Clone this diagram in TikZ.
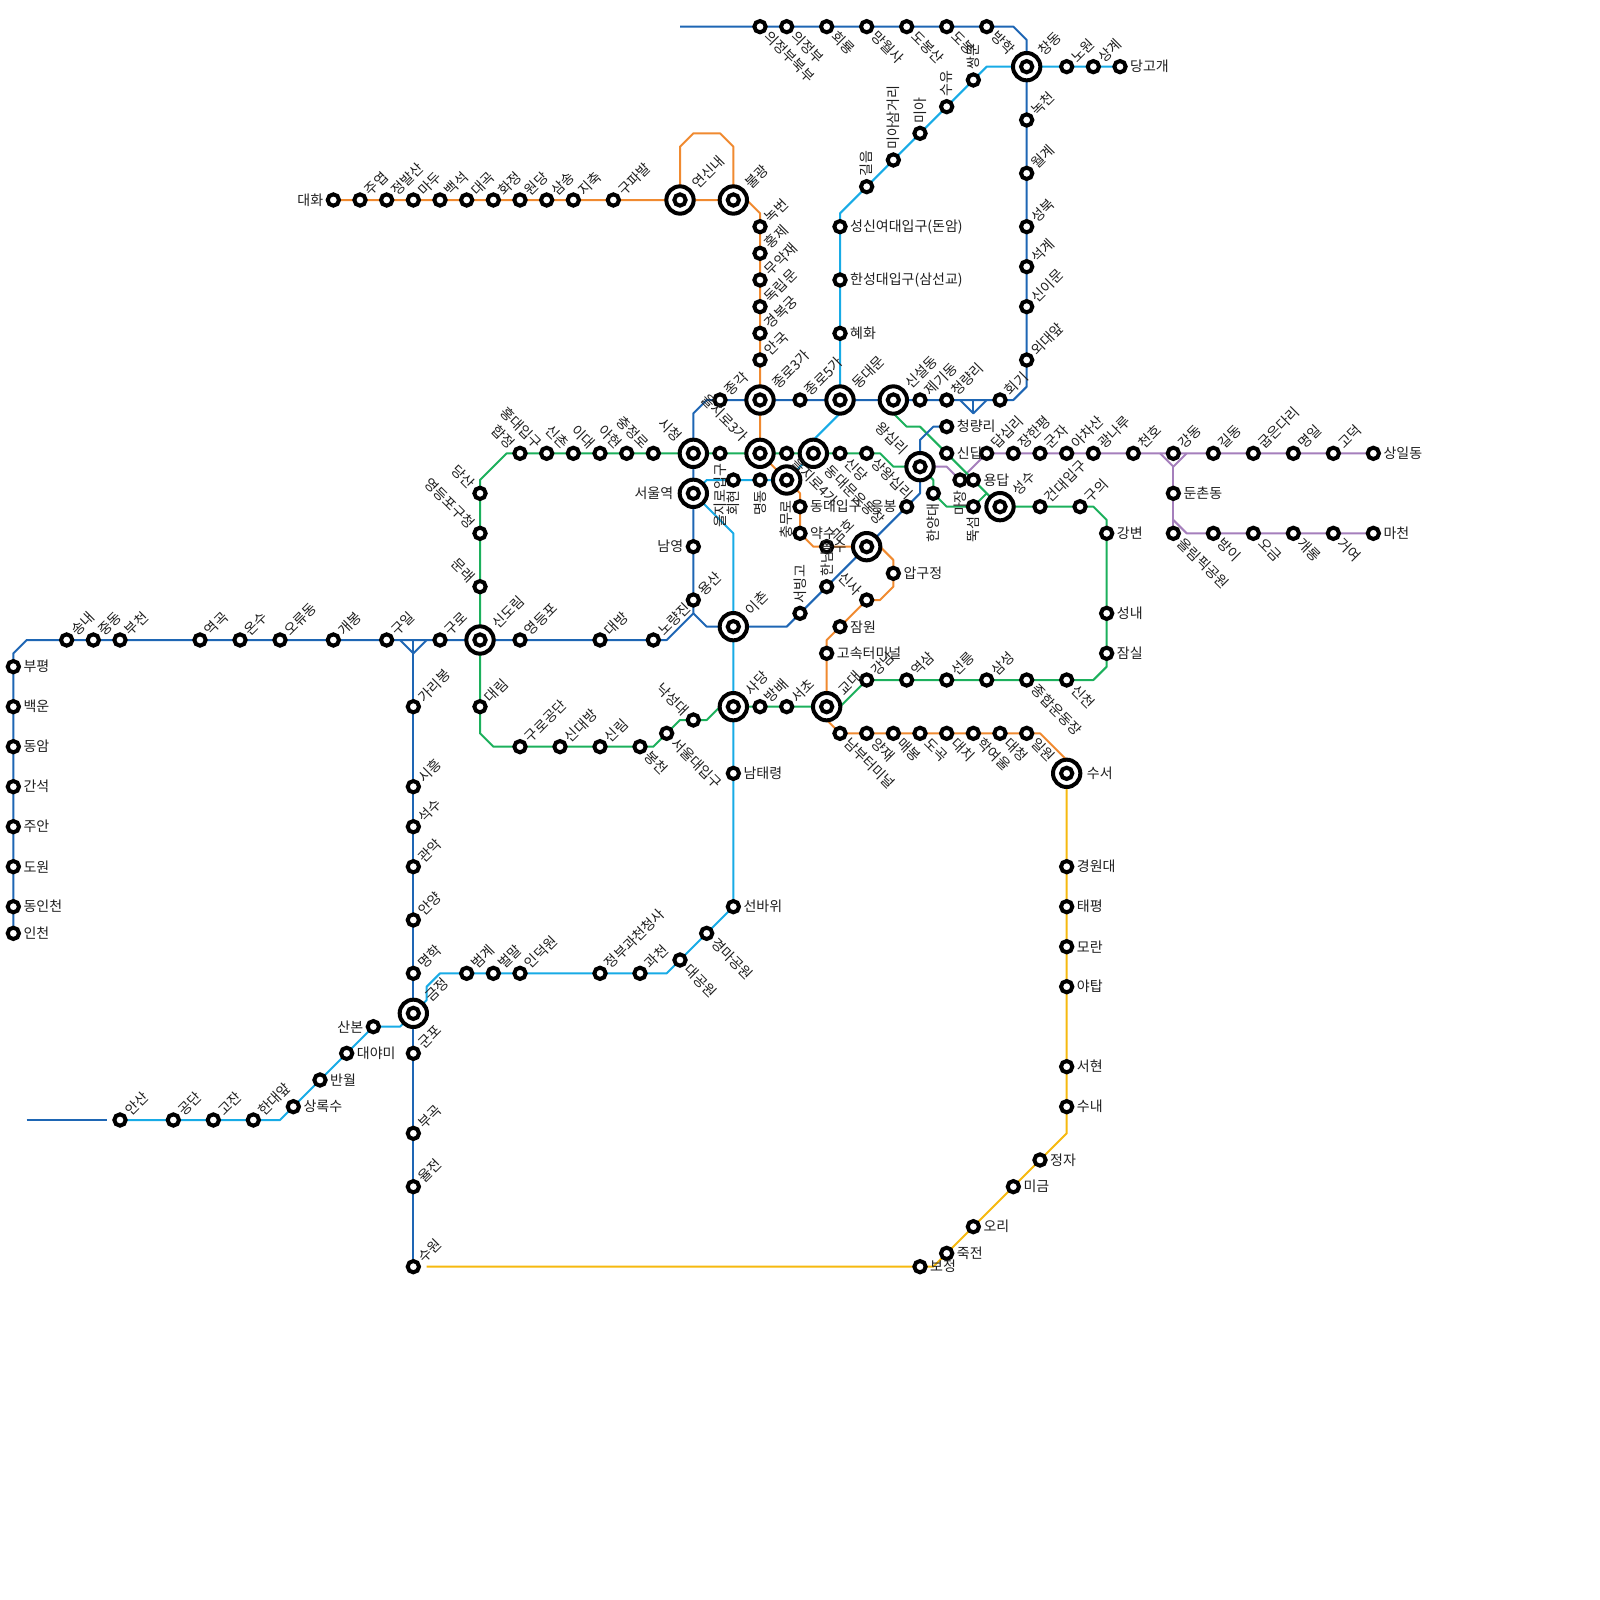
\documentclass[tikz,border=0pt]{standalone}
\usepackage{fontspec}
\newfontfamily\kr{Noto Sans CJK KR}
\usetikzlibrary{backgrounds}
\definecolor{cA}{HTML}{1E66B4}
\definecolor{cB}{HTML}{1CB05C}
\definecolor{cC}{HTML}{F08A30}
\definecolor{cD}{HTML}{18ABE6}
\definecolor{cE}{HTML}{A57FBC}
\definecolor{cF}{HTML}{F6B90F}
\tikzset{
  stn/.style={circle,draw=black,fill=white,line width=4pt,minimum size=11.33pt,inner sep=0pt,outer sep=0pt},
  bigstn/.style={circle,draw=black,fill=white,line width=4pt,minimum size=27.33pt,inner sep=0pt,outer sep=0pt,
    path picture={\draw[line width=4pt] (path picture bounding box.center) circle (5.67pt);}},
  txt/.style={inner sep=0pt,outer sep=0pt,text=black!88,font=\kr\fontsize{14}{14}\selectfont},
  lE/.style={txt,xshift=#1,anchor=west},
  lW/.style={txt,xshift=-#1,anchor=east},
  lN/.style={txt,yshift=#1,rotate=90,anchor=west},
  lS/.style={txt,yshift=-#1,rotate=90,anchor=east},
  lNE/.style={txt,xshift=.7071*#1,yshift=.7071*#1,rotate=45,anchor=west},
  lSE/.style={txt,xshift=.7071*#1,yshift=-.7071*#1,rotate=-45,anchor=west},
  lNW/.style={txt,xshift=-.7071*#1,yshift=.7071*#1,rotate=-45,anchor=east},
  lineA/.style={draw=cA,line width=2pt,line join=round},
  lineB/.style={draw=cB,line width=2pt,line join=round},
  lineC/.style={draw=cC,line width=2pt,line join=round},
  lineD/.style={draw=cD,line width=2pt,line join=round},
  lineE/.style={draw=cE,line width=2pt,line join=round},
  lineF/.style={draw=cF,line width=2pt,line join=round},
}
\makeatletter
\gdef\alllabels{}
\newcommand\stx[5]{\node[stn] (#1) at (#2,#3) {};\g@addto@macro\alllabels{\node[l#4=10.2pt] (t#1) at (#1) {#5};}}
\newcommand\st[4]{\stx{#4}{#1}{#2}{#3}{#4}}
\newcommand\bst[4]{\node[bigstn] (#4) at (#1,#2) {};\g@addto@macro\alllabels{\node[l#3=20.2pt] (t#4) at (#4) {#4};}}
\makeatother
\begin{document}
\begin{tikzpicture}[x=13.33333pt,y=-13.33333pt]
\path[use as bounding box] (0,0) rectangle (120,120);
% bends
\foreach \n/\x/\y in {bs/51/2,b1/76/2,b2/77/3,b3/77/29,b4/76/30,b5/53/30,b6/52/31,b7/52/46,b8/50/48,b9/2/48,b10/1/49,
 j1/30/48,j2/31/49,j3/32/48,j4/31/48,k1/72/30,k2/73/31,k3/74/30,k4/73/30,b11/53/47,c1/70/32,c2/69/33,c3/69/37,c4/59/47,s1/2/84,s2/8/84,
 d1/74/5,d2/63/16,d3/63/31,d4/61/33,d5/53/36,d6/53/38,d7/55/40,d8/50/73,d9/33/73,d10/32/74,d11/32/75,d12/30/77,d13/21/84,
 e1/51/11,e2/52/10,e3/54/10,e4/55/11,e5/56/15,e6/57/16,e7/60/37,e8/61/41,e9/66/41,e10/67/42,e11/67/44,e12/66/45,e13/62/48,e14/62/54,e15/78/55,e16/80/57,
 f1/82/38,f2/83/39,f3/83/50,f4/82/51,f5/63/53,f6/54/53,f7/53/54,f8/51/54,f9/49/56,f10/37/56,f11/36/55,f12/36/36,f13/38/34,f14/66/34,f15/67/35,f16/70/36,f17/71/38,f18/74/37,f19/67/31,f20/68/32,f21/69/32,
 g1/71/35,g2/87/34,g3/88/35,g4/89/34,g5/88/39,g6/89/40,h1/32/95,h2/70/95,h3/80/85}
 {\coordinate (\n) at (\x,\y);}
% stations: line 1
\st{57}{2}{SE}{의정부북부}\st{59}{2}{SE}{의정부}\st{62}{2}{SE}{회룡}\st{65}{2}{SE}{망월사}\st{68}{2}{SE}{도봉산}\st{71}{2}{SE}{도봉}\st{74}{2}{SE}{방학}
\bst{77}{5}{NE}{창동}
\st{77}{9}{NE}{녹천}\st{77}{13}{NE}{월계}\st{77}{17}{NE}{성북}\st{77}{20}{NE}{석계}\st{77}{23}{NE}{신이문}\st{77}{27}{NE}{외대앞}
\st{75}{30}{NE}{회기}\stx{청량리1}{71}{30}{NE}{청량리}\st{69}{30}{NE}{제기동}\bst{67}{30}{NE}{신설동}\bst{63}{30}{NE}{동대문}\st{60}{30}{NE}{종로5가}\bst{57}{30}{NE}{종로3가}\st{54}{30}{NE}{종각}
\bst{52}{34}{NW}{시청}\bst{52}{37}{W}{서울역}\st{52}{41}{W}{남영}\st{52}{45}{NE}{용산}
\st{49}{48}{NE}{노량진}\st{45}{48}{NE}{대방}\st{39}{48}{NE}{영등포}\bst{36}{48}{NE}{신도림}\st{33}{48}{NE}{구로}\st{29}{48}{NE}{구일}\st{25}{48}{NE}{개봉}\st{21}{48}{NE}{오류동}\st{18}{48}{NE}{온수}\st{15}{48}{NE}{역곡}\st{9}{48}{NE}{부천}\st{7}{48}{NE}{중동}\st{5}{48}{NE}{송내}
\st{1}{50}{E}{부평}\st{1}{53}{E}{백운}\st{1}{56}{E}{동암}\st{1}{59}{E}{간석}\st{1}{62}{E}{주안}\st{1}{65}{E}{도원}\st{1}{68}{E}{동인천}\st{1}{70}{E}{인천}
\st{31}{53}{NE}{가리봉}\st{31}{59}{NE}{시흥}\st{31}{62}{NE}{석수}\st{31}{65}{NE}{관악}\st{31}{69}{NE}{안양}\st{31}{73}{NE}{명학}\bst{31}{76}{NE}{금정}\st{31}{79}{NE}{군포}\st{31}{85}{NE}{부곡}\st{31}{89}{NE}{율전}\st{31}{95}{NE}{수원}
\stx{청량리2}{71}{32}{E}{청량리}\bst{69}{35}{NW}{왕십리}\st{68}{38}{W}{응봉}\bst{65}{41}{W}{옥수}\st{62}{44}{N}{한남}\st{60}{46}{N}{서빙고}\bst{55}{47}{NE}{이촌}
% line 4
\st{80}{5}{NE}{노원}\st{82}{5}{NE}{상계}\st{84}{5}{E}{당고개}
\st{73}{6}{N}{쌍문}\st{71}{8}{N}{수유}\st{69}{10}{N}{미아}\st{67}{12}{N}{미아삼거리}\st{65}{14}{N}{길음}
\stx{성신여대입구}{63}{17}{E}{성신여대입구(돈암)}\stx{한성대입구}{63}{21}{E}{한성대입구(삼선교)}\st{63}{25}{E}{혜화}
\bst{61}{34}{SE}{동대문운동장}\bst{59}{36}{S}{충무로}\st{57}{36}{S}{명동}\st{55}{36}{S}{회현}
\bst{55}{53}{NE}{사당}\st{55}{58}{E}{남태령}\st{55}{68}{E}{선바위}\st{53}{70}{SE}{경마공원}\st{51}{72}{SE}{대공원}
\st{48}{73}{NE}{과천}\st{45}{73}{NE}{정부과천청사}\st{39}{73}{NE}{인덕원}\st{37}{73}{NE}{벌말}\st{35}{73}{NE}{범계}
\st{28}{77}{W}{산본}\st{26}{79}{E}{대야미}\st{24}{81}{E}{반월}\st{22}{83}{E}{상록수}\st{19}{84}{NE}{한대앞}\st{16}{84}{NE}{고잔}\st{13}{84}{NE}{공단}\st{9}{84}{NE}{안산}
% line 3
\st{25}{15}{W}{대화}\st{27}{15}{NE}{주엽}\st{29}{15}{NE}{정발산}\st{31}{15}{NE}{마두}\st{33}{15}{NE}{백석}\st{35}{15}{NE}{대곡}\st{37}{15}{NE}{화정}\st{39}{15}{NE}{원당}\st{41}{15}{NE}{삼송}\st{43}{15}{NE}{지축}\st{46}{15}{NE}{구파발}
\bst{51}{15}{NE}{연신내}\bst{55}{15}{NE}{불광}
\st{57}{17}{NE}{녹번}\st{57}{19}{NE}{홍제}\st{57}{21}{NE}{무악재}\st{57}{23}{NE}{독립문}\st{57}{25}{NE}{경복궁}\st{57}{27}{NE}{안국}
\bst{57}{34}{NW}{을지로3가}\st{60}{38}{E}{동대입구}\st{60}{40}{E}{약수}\st{62}{41}{NE}{금호}\st{67}{43}{E}{압구정}\st{65}{45}{NW}{신사}\st{63}{47}{E}{잠원}\st{62}{49}{E}{고속터미널}\bst{62}{53}{NE}{교대}
\st{63}{55}{SE}{남부터미널}\st{65}{55}{SE}{양재}\st{67}{55}{SE}{매봉}\st{69}{55}{SE}{도곡}\st{71}{55}{SE}{대치}\st{73}{55}{SE}{학여울}\st{75}{55}{SE}{대청}\st{77}{55}{SE}{일원}\bst{80}{58}{E}{수서}
% line 2
\st{39}{34}{NW}{합정}\st{41}{34}{NW}{홍대입구}\st{43}{34}{NW}{신촌}\st{45}{34}{NW}{이대}\st{47}{34}{NW}{아현}\st{49}{34}{NW}{충정로}
\st{54}{34}{S}{을지로입구}\st{59}{34}{SE}{을지로4가}\st{63}{34}{SE}{신당}\st{65}{34}{SE}{상왕십리}
\st{70}{37}{S}{한양대}\st{73}{38}{S}{뚝섬}\bst{75}{38}{NE}{성수}\st{78}{38}{NE}{건대입구}\st{81}{38}{NE}{구의}
\st{83}{40}{E}{강변}\st{83}{46}{E}{성내}\st{83}{49}{E}{잠실}\st{80}{51}{SE}{신천}\st{77}{51}{SE}{종합운동장}\st{74}{51}{NE}{삼성}\st{71}{51}{NE}{선릉}\st{68}{51}{NE}{역삼}\st{65}{51}{NE}{강남}
\st{59}{53}{NE}{서초}\st{57}{53}{NE}{방배}\st{52}{54}{NW}{낙성대}\st{50}{55}{SE}{서울대입구}\st{48}{56}{SE}{봉천}\st{45}{56}{NE}{신림}\st{42}{56}{NE}{신대방}\st{39}{56}{NE}{구로공단}
\st{36}{53}{NE}{대림}\st{36}{44}{NW}{문래}\st{36}{40}{NW}{영등포구청}\st{36}{37}{NW}{당산}
\st{71}{34}{E}{신답}\st{73}{36}{E}{용답}
% line 5
\st{72}{36}{S}{마장}\st{74}{34}{NE}{답십리}\st{76}{34}{NE}{장한평}\st{78}{34}{NE}{군자}\st{80}{34}{NE}{아차산}\st{82}{34}{NE}{광나루}\st{85}{34}{NE}{천호}\st{88}{34}{NE}{강동}\st{91}{34}{NE}{길동}\st{94}{34}{NE}{굽은다리}\st{97}{34}{NE}{명일}\st{100}{34}{NE}{고덕}\st{103}{34}{E}{상일동}
\st{88}{37}{E}{둔촌동}\st{88}{40}{SE}{올림픽공원}\st{91}{40}{SE}{방이}\st{94}{40}{SE}{오금}\st{97}{40}{SE}{개롱}\st{100}{40}{SE}{거여}\st{103}{40}{E}{마천}
% Bundang
\st{69}{95}{E}{보정}\st{71}{94}{E}{죽전}\st{73}{92}{E}{오리}\st{76}{89}{E}{미금}\st{78}{87}{E}{정자}\st{80}{83}{E}{수내}\st{80}{80}{E}{서현}\st{80}{74}{E}{야탑}\st{80}{71}{E}{모란}\st{80}{68}{E}{태평}\st{80}{65}{E}{경원대}
\begin{scope}[on background layer]
\fill[white] (0,0) rectangle (120,120);
\draw[lineF] (h1) -- (보정) -- (h2) -- (죽전) -- (오리) -- (미금) -- (정자) -- (h3) -- (수내) -- (서현) -- (야탑) -- (모란) -- (태평) -- (경원대) -- (수서);
\draw[lineE] (왕십리) -- (g1) -- (마장) -- (답십리) -- (장한평) -- (군자) -- (아차산) -- (광나루) -- (천호) -- (강동) -- (길동) -- (굽은다리) -- (명일) -- (고덕) -- (상일동);
\draw[lineE] (g2) -- (g3) -- (g4);
\draw[lineE] (g3) -- (둔촌동) -- (올림픽공원);
\draw[lineE] (g5) -- (g6) -- (방이) -- (오금) -- (개롱) -- (거여) -- (마천);
\draw[lineB] (성수) -- (건대입구) -- (구의) -- (f1) -- (f2) -- (강변) -- (성내) -- (잠실) -- (f3) -- (f4) -- (신천) -- (종합운동장) -- (삼성) -- (선릉) -- (역삼) -- (강남) -- (f5) -- (교대) -- (서초) -- (방배) -- (사당) -- (f6) -- (f7) -- (낙성대) -- (f8) -- (서울대입구) -- (f9) -- (봉천) -- (신림) -- (신대방) -- (구로공단) -- (f10) -- (f11) -- (대림) -- (신도림) -- (문래) -- (영등포구청) -- (당산) -- (f12) -- (f13) -- (합정) -- (홍대입구) -- (신촌) -- (이대) -- (아현) -- (충정로) -- (시청) -- (을지로입구) -- (을지로3가) -- (을지로4가) -- (동대문운동장) -- (신당) -- (상왕십리) -- (f14) -- (f15) -- (왕십리) -- (f16) -- (한양대) -- (f17) -- (뚝섬) -- (f18) -- (성수);
\draw[lineB] (신설동) -- (f19) -- (f20) -- (f21) -- (신답) -- (용답) -- (f18);
\draw[lineC] (대화) -- (주엽) -- (정발산) -- (마두) -- (백석) -- (대곡) -- (화정) -- (원당) -- (삼송) -- (지축) -- (구파발) -- (연신내) -- (불광) -- (e5) -- (e6) -- (녹번) -- (홍제) -- (무악재) -- (독립문) -- (경복궁) -- (안국) -- (종로3가) -- (을지로3가) -- (충무로) -- (e7) -- (동대입구) -- (약수) -- (e8) -- (금호) -- (옥수) -- (e9) -- (e10) -- (압구정) -- (e11) -- (e12) -- (신사) -- (잠원) -- (e13) -- (고속터미널) -- (교대) -- (e14) -- (남부터미널) -- (양재) -- (매봉) -- (도곡) -- (대치) -- (학여울) -- (대청) -- (일원) -- (e15) -- (e16) -- (수서);
\draw[lineC] (연신내) -- (e1) -- (e2) -- (e3) -- (e4) -- (불광);
\draw[lineD] (당고개) -- (상계) -- (노원) -- (창동) -- (d1) -- (쌍문) -- (수유) -- (미아) -- (미아삼거리) -- (길음) -- (d2) -- (성신여대입구) -- (한성대입구) -- (혜화) -- (동대문) -- (d3) -- (d4) -- (동대문운동장) -- (충무로) -- (명동) -- (회현) -- (d5) -- (서울역) -- (d6) -- (d7) -- (이촌) -- (사당) -- (남태령) -- (선바위) -- (경마공원) -- (대공원) -- (d8) -- (과천) -- (정부과천청사) -- (인덕원) -- (벌말) -- (범계) -- (d9) -- (d10) -- (d11) -- (금정) -- (d12) -- (산본) -- (대야미) -- (반월) -- (상록수) -- (d13) -- (한대앞) -- (고잔) -- (공단) -- (안산);
\draw[lineA] (bs) -- (의정부북부) -- (의정부) -- (회룡) -- (망월사) -- (도봉산) -- (도봉) -- (방학) -- (b1) -- (b2) -- (창동) -- (녹천) -- (월계) -- (성북) -- (석계) -- (신이문) -- (외대앞) -- (b3) -- (b4) -- (회기) -- (청량리1) -- (제기동) -- (신설동) -- (동대문) -- (종로5가) -- (종로3가) -- (종각) -- (b5) -- (b6) -- (시청) -- (서울역) -- (남영) -- (용산) -- (b7) -- (b8) -- (노량진) -- (대방) -- (영등포) -- (신도림) -- (구로) -- (구일) -- (개봉) -- (오류동) -- (온수) -- (역곡) -- (부천) -- (중동) -- (송내) -- (b9) -- (b10) -- (부평) -- (백운) -- (동암) -- (간석) -- (주안) -- (도원) -- (동인천) -- (인천);
\draw[lineA] (j1) -- (j2) -- (j3);
\draw[lineA] (j4) -- (가리봉) -- (시흥) -- (석수) -- (관악) -- (안양) -- (명학) -- (금정) -- (군포) -- (부곡) -- (율전) -- (수원);
\draw[lineA] (k1) -- (k2) -- (k3);
\draw[lineA] (k4) -- (k2);
\draw[lineA] (b7) -- (b11) -- (이촌) -- (c4) -- (서빙고) -- (한남) -- (옥수) -- (응봉) -- (c3) -- (왕십리) -- (c2) -- (c1) -- (청량리2);
\draw[lineA] (s1) -- (s2);
\end{scope}
\alllabels
\end{tikzpicture}
\end{document}
